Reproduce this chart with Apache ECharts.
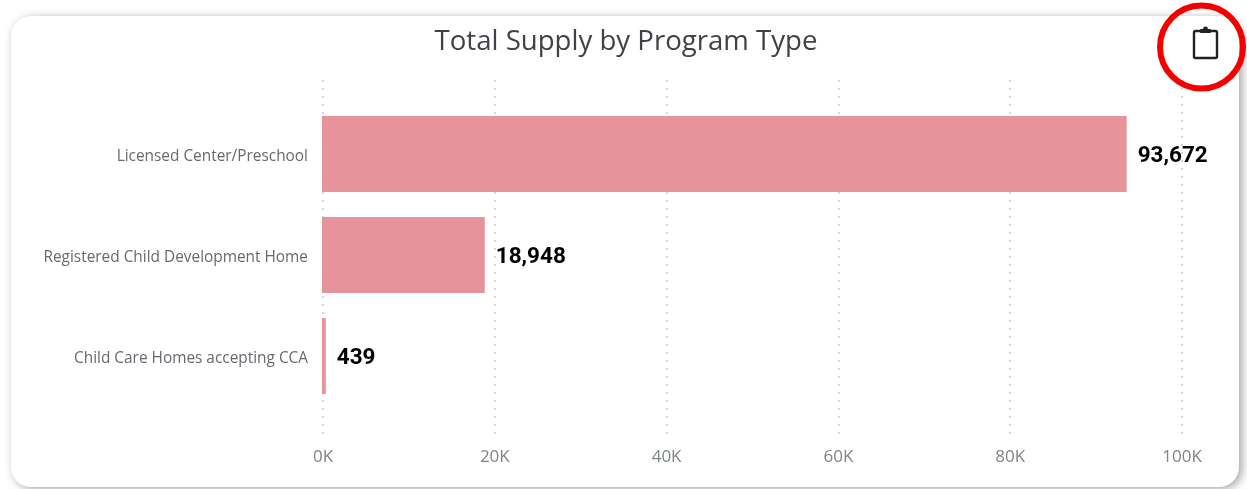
<!DOCTYPE html>
<html><head><meta charset="utf-8">
<style>html,body{margin:0;padding:0;background:#fff;overflow:hidden}#c{width:1247px;height:489px}</style>
<script src="https://cdn.jsdelivr.net/npm/echarts@6/dist/echarts.min.js"></script>
</head><body><div id="c"></div>
<script>
const categories = ['Licensed Center/Preschool','Registered Child Development Home','Child Care Homes accepting CCA'];
const values = [93672,18948,439];
const chart = echarts.init(document.getElementById('c'),null,{renderer:'canvas'});
chart.setOption({
  animation:false,
  backgroundColor:'#fff',
  title:{text:'Total Supply by Program Type',left:621,top:23,textAlign:'center',
    textStyle:{fontFamily:'Open Sans',fontSize:27.6,fontWeight:'normal',color:'#3f4347'}},
  graphic:[
    {type:'rect',z:-10,shape:{x:11,y:16,width:1228,height:471,r:20},
      style:{fill:'#fff',shadowBlur:10,shadowColor:'rgba(0,0,0,0.36)',shadowOffsetX:3,shadowOffsetY:2}},
    {type:'circle',z:20,shape:{cx:1201.5,cy:47,r:41.5},style:{fill:'none',stroke:'#f50000',lineWidth:6}},
    {type:'rect',z:20,shape:{x:1194,y:31,width:23,height:27,r:1.5},style:{fill:'#fff',stroke:'#222',lineWidth:2.4}},
    {type:'rect',z:21,shape:{x:1200,y:29,width:11,height:4,r:1},style:{fill:'#222'}},
    {type:'circle',z:21,shape:{cx:1205.5,cy:29,r:2.4},style:{fill:'#222'}}
  ],
  grid:[
    {left:323,width:859,top:80,height:360},
    {left:322,width:859,top:103.5,height:303}
  ],
  xAxis:[
    {type:'value',gridIndex:0,min:0,max:100000,interval:20000,
      axisLine:{show:false},axisTick:{show:false},
      axisLabel:{margin:9,color:'#7f8488',fontFamily:'Open Sans',fontSize:17,formatter:v=>(v/1000)+'K'},
      splitLine:{show:true,lineStyle:{type:[2,6],color:'#c8c8c8',width:1.5}}},
    {type:'value',gridIndex:1,min:0,max:100000,show:false,splitLine:{show:false}}
  ],
  yAxis:[
    {type:'category',gridIndex:0,show:false,data:[]},
    {type:'category',gridIndex:1,inverse:true,data:categories,
      axisLine:{show:false},axisTick:{show:false},
      axisLabel:{margin:14,color:'#666a6e',fontFamily:'Open Sans',fontSize:15.4,verticalAlign:'top',lineHeight:5}}
  ],
  series:[{type:'bar',xAxisIndex:1,yAxisIndex:1,data:values,barWidth:76,
    itemStyle:{color:'#e7939b'},
    label:{show:true,position:'right',distance:11,offset:[0,2],color:'#000',fontFamily:'Roboto',fontWeight:'bold',fontSize:22.5,
      formatter:p=>p.value.toLocaleString('en-US')}}]
});
</script></body></html>
